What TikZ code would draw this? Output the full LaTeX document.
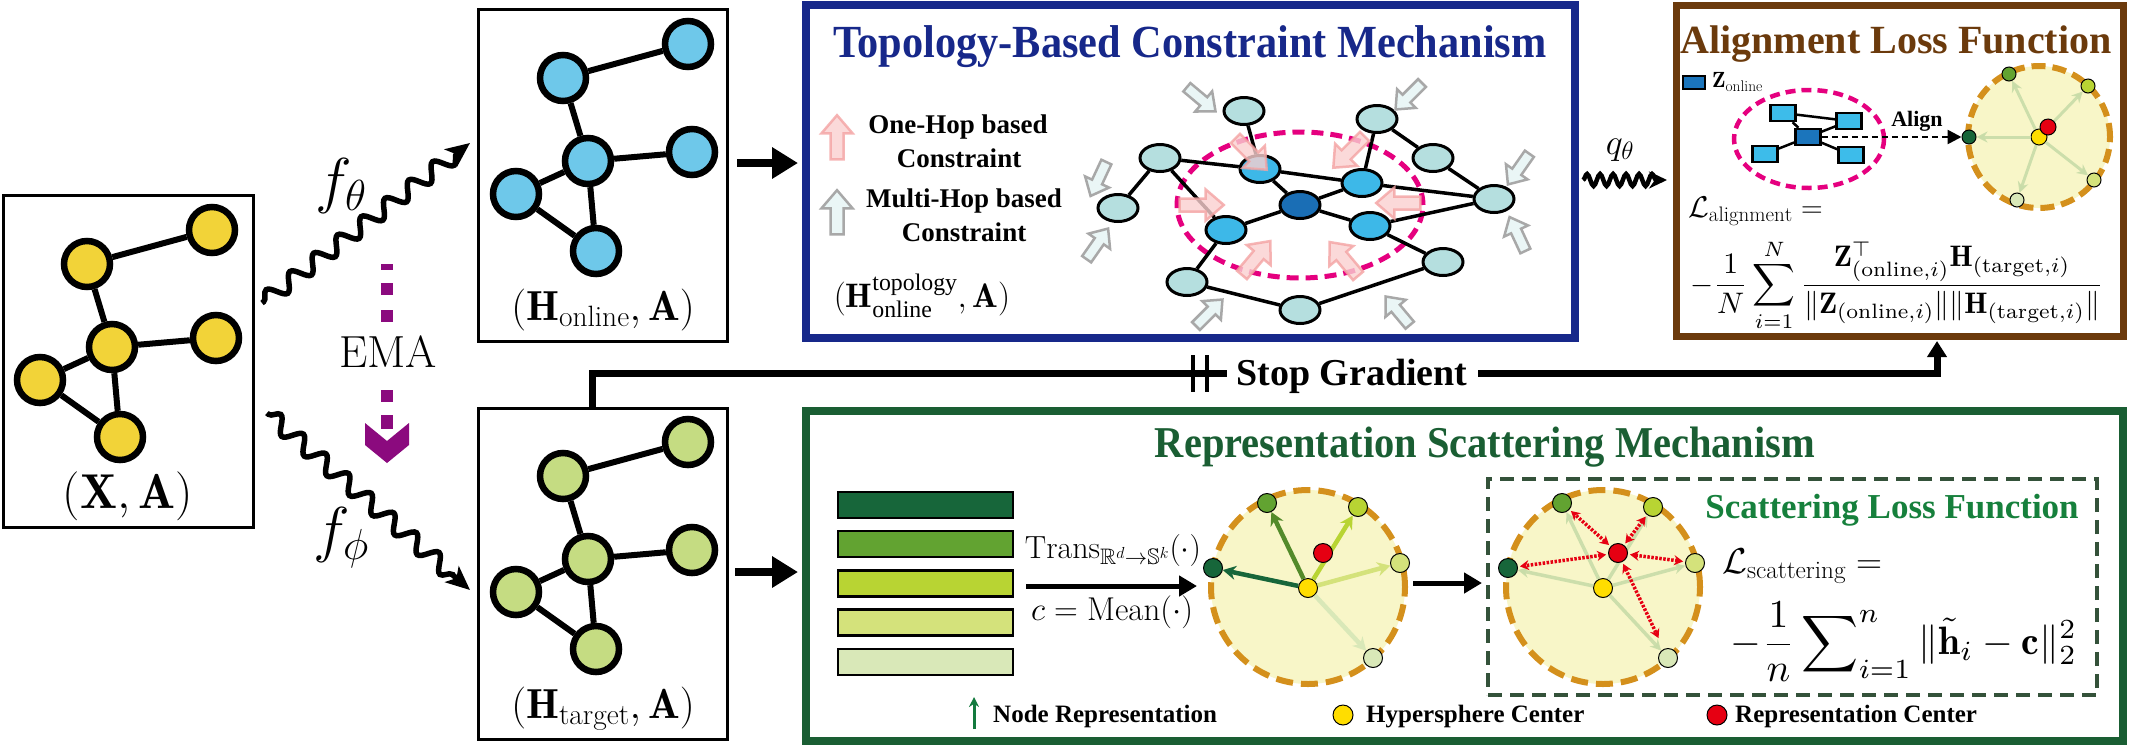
\RequirePackage{fix-cm}
\documentclass[tikz,border=0pt]{standalone}
\usepackage{amsmath,amssymb}
\usepackage{graphicx}
\usepackage{fontspec}
\newfontfamily\tnr{Liberation Serif}
\newfontfamily\tnrc[FakeStretch=0.92]{Liberation Serif}
\usetikzlibrary{arrows.meta,decorations.pathmorphing,shapes.geometric}
\newcommand{\fsz}[1]{\fontsize{#1}{#1}\selectfont}
\newcommand{\blkarrow}[5]{\begin{scope}[shift={(#1,#2)},rotate=#3,scale=#4]\draw[#5] (-18,-5)--(2,-5)--(2,-12)--(16,0)--(2,12)--(2,5)--(-18,5)--cycle;\end{scope}}
\definecolor{cyel}{HTML}{F2D338}
\definecolor{cblue}{HTML}{6EC8EA}
\definecolor{cgrn}{HTML}{C5DC82}
\definecolor{topo}{HTML}{17288A}
\definecolor{brn}{HTML}{6B3A0C}
\definecolor{repg}{HTML}{1A5E33}
\definecolor{slf}{HTML}{16803C}
\definecolor{dbox}{HTML}{34523A}
\definecolor{emac}{HTML}{8B0A7E}
\definecolor{mag}{HTML}{E5007F}
\definecolor{tnodec}{HTML}{B5DFDF}
\definecolor{tblue}{HTML}{3DB8E8}
\definecolor{tdark}{HTML}{1A6EB5}
\definecolor{ca}{HTML}{17663A}
\definecolor{cb}{HTML}{62A331}
\definecolor{cc}{HTML}{B8D433}
\definecolor{cd}{HTML}{D4E27B}
\definecolor{ce}{HTML}{D9E8B8}
\definecolor{sph}{HTML}{F8F6C8}
\definecolor{sphb}{HTML}{D4901C}
\definecolor{yc}{HTML}{FFDD00}
\definecolor{rc}{HTML}{E60012}
\definecolor{faint}{HTML}{C8DCA8}
\definecolor{zblue}{HTML}{1B75BC}
\definecolor{rblue}{HTML}{3DBCEA}
\definecolor{pinkf}{HTML}{FAD0D0}
\definecolor{pinkd}{HTML}{F4A3A3}
\definecolor{grayf}{HTML}{EAF6F6}
\definecolor{grayd}{HTML}{A8A8A8}
\definecolor{legg}{HTML}{137A3E}
\begin{document}
\begin{tikzpicture}[x=1pt,y=-1pt,
  gnode/.style={circle,draw=black,line width=6.5pt,minimum size=46pt,inner sep=0pt},
  gedge/.style={line width=6pt},
  tnode/.style={ellipse,draw=black,line width=3pt,minimum width=40pt,minimum height=27pt,inner sep=0pt,fill=tnodec},
  tedge/.style={line width=3.5pt},
  wavy/.style={line width=5.5pt,decorate,decoration={snake,amplitude=8pt,segment length=30pt,post length=16pt,pre length=2pt},-{Stealth[length=24pt,width=21pt,inset=6pt]}},
  bigarrow/.style={line width=8pt,-{Triangle[length=26pt,width=30pt]}},
  pinkarr/.style={fill=pinkf,draw=pinkd,line width=2.5pt,opacity=0.8},
  grayarr/.style={fill=grayf,draw=grayd,line width=2.5pt},
  rnode/.style={draw,line width=2.5pt,fill=rblue,minimum width=25pt,minimum height=16pt,inner sep=0pt},
  dot/.style={circle,draw=black,line width=1pt,minimum size=19pt,inner sep=0pt},
  sdot/.style={circle,draw=black,line width=1pt,minimum size=14pt,inner sep=0pt},
  sphere/.style={circle,draw=sphb,fill=sph,line width=6pt,inner sep=0pt},
  bar/.style={draw,line width=2.5pt,minimum width=175pt,minimum height=26pt,inner sep=0pt},
  faintarr/.style={faint,line width=3.5pt,opacity=0.9,-{Stealth[length=11pt,width=11pt]}},
  redarr/.style={rc,line width=3.5pt,dash pattern=on 2.5pt off 1.5pt,{Stealth[length=9pt,width=10pt]}-{Stealth[length=9pt,width=10pt]},shorten <=2pt,shorten >=2pt},
  boldt/.style={font={\tnr\bfseries\fsz{#1}}}
]
\useasboundingbox (0,0) rectangle (2131,748);
\fill[white] (0,0) rectangle (2131,748);

% ---------------- input graph (X,A)
\node[draw,line width=3pt,minimum width=250pt,minimum height=332pt,inner sep=0pt] (xa) at (128.5,361.5) {};
\node[gnode,fill=cyel] (y1) at (212,230) {};
\node[gnode,fill=cyel] (y2) at (87,264) {};
\node[gnode,fill=cyel] (y3) at (112,347) {};
\node[gnode,fill=cyel] (y4) at (216,338) {};
\node[gnode,fill=cyel] (y5) at (40,380) {};
\node[gnode,fill=cyel] (y6) at (120,437) {};
\draw[gedge] (y2)--(y1) (y2)--(y3) (y3)--(y4) (y3)--(y5) (y3)--(y6) (y5)--(y6);
\node[anchor=base,font={\fsz{49}}] (xal) at (128,508) {$(\mathbf{X},\mathbf{A})$};

% ---------------- online graph
\node[draw,line width=3pt,minimum width=249pt,minimum height=332pt,inner sep=0pt] (on) at (603,175.5) {};
\node[gnode,fill=cblue] (o1) at (688,44) {};
\node[gnode,fill=cblue] (o2) at (563,78) {};
\node[gnode,fill=cblue] (o3) at (588,161) {};
\node[gnode,fill=cblue] (o4) at (692,152) {};
\node[gnode,fill=cblue] (o5) at (516,194) {};
\node[gnode,fill=cblue] (o6) at (596,251) {};
\draw[gedge] (o2)--(o1) (o2)--(o3) (o3)--(o4) (o3)--(o5) (o3)--(o6) (o5)--(o6);
\node[anchor=base,font={\fsz{42}}] (onl) at (603,320) {$(\mathbf{H}_{\mathrm{online}},\mathbf{A})$};

% ---------------- target graph
\node[draw,line width=3pt,minimum width=249pt,minimum height=331pt,inner sep=0pt] (tg) at (603,574) {};
\node[gnode,fill=cgrn] (t1) at (688,442) {};
\node[gnode,fill=cgrn] (t2) at (563,476) {};
\node[gnode,fill=cgrn] (t3) at (588,559) {};
\node[gnode,fill=cgrn] (t4) at (692,550) {};
\node[gnode,fill=cgrn] (t5) at (516,592) {};
\node[gnode,fill=cgrn] (t6) at (596,649) {};
\draw[gedge] (t2)--(t1) (t2)--(t3) (t3)--(t4) (t3)--(t5) (t3)--(t6) (t5)--(t6);
\node[anchor=base,font={\fsz{42}}] (tgl) at (603,718) {$(\mathbf{H}_{\mathrm{target}},\mathbf{A})$};

% ---------------- encoders
\coordinate (fts) at (262,303); \coordinate (fte) at (470,143);
\coordinate (fps) at (267,413); \coordinate (fpe) at (470,590);
\draw[wavy] (fts) -- (fte);
\draw[wavy] (fps) -- (fpe);
\node[font={\fsz{62}}] (fth) at (341,186) {$f_\theta$};
\node[font={\fsz{62}}] (fph) at (341,538) {$f_\phi$};

% EMA
\coordinate (e1) at (387,264); \coordinate (e2) at (387,326);
\coordinate (e3) at (387,390); \coordinate (e4) at (387,430);
\draw[emac,line width=12pt,dash pattern=on 6pt off 13pt on 12pt off 15pt on 12pt off 60pt] (e1)--(e2);
\draw[emac,line width=12pt,dash pattern=on 12pt off 13pt on 14pt off 60pt] (e3)--(e4);
\fill[emac] (365,423)--(387,441)--(409,423)--(409,445)--(387,463)--(365,445)--cycle;
\node[font={\fsz{45}}] (emat) at (388,352) {EMA};

% arrows to the modules
\coordinate (a1s) at (737,163); \coordinate (a1e) at (798,163);
\coordinate (a2s) at (735,572); \coordinate (a2e) at (798,572);
\draw[bigarrow] (a1s)--(a1e);
\draw[bigarrow] (a2s)--(a2e);

% ---------------- topology module
\node[draw=topo,line width=8pt,minimum width=769pt,minimum height=333pt,inner sep=0pt] (tp) at (1190.5,171.5) {};
\node[anchor=base,text=topo,font={\tnrc\bfseries\fsz{46}}] (tpt) at (1190,57) {Topology-Based Constraint Mechanism};
\blkarrow{837}{136}{90}{1.3}{pinkarr}
\blkarrow{837}{211}{90}{1.3}{grayarr}
\node[anchor=base,boldt=27] (l1a) at (958,133) {One-Hop based};
\node[anchor=base,boldt=27] (l1b) at (959,167) {Constraint};
\node[anchor=base,boldt=27] (l2a) at (964,207) {Multi-Hop based};
\node[anchor=base,boldt=27] (l2b) at (964,241) {Constraint};
\node[anchor=base,font={\fsz{34}}] (tpl) at (922,307) {$(\mathbf{H}^{\text{\tnr topology}}_{\text{\tnr online}},\mathbf{A})$};

\node[ellipse,draw=mag,line width=5pt,dash pattern=on 12pt off 7pt,minimum width=246pt,minimum height=146pt] (pe) at (1300,205) {};
\node[tnode] (n1) at (1244,111) {};
\node[tnode] (n2) at (1160,158) {};
\node[tnode] (n3) at (1118,208) {};
\node[tnode,fill=tblue] (b1) at (1260,169) {};
\node[tnode,fill=tdark] (dk) at (1300,205) {};
\node[tnode,fill=tblue] (b3) at (1226,230) {};
\node[tnode] (n4) at (1187,282) {};
\node[tnode] (n5) at (1300,310) {};
\node[tnode] (n6) at (1377,119) {};
\node[tnode] (n7) at (1433,158) {};
\node[tnode,fill=tblue] (b2) at (1362,183) {};
\node[tnode] (n8) at (1494,199) {};
\node[tnode,fill=tblue] (b4) at (1370,226) {};
\node[tnode] (n9) at (1443,262) {};
\draw[tedge] (n1)--(b1) (n2)--(b1) (n2)--(n3) (n2)--(b3) (b1)--(dk) (b1)--(b2)
  (dk)--(b2) (dk)--(b4) (dk)--(b3) (b2)--(n6) (n6)--(n7) (n7)--(n8) (b2)--(n8)
  (b4)--(n8) (b4)--(n9) (b3)--(n4) (n4)--(n5) (n5)--(n9);
\blkarrow{1252}{155}{-45}{1.3}{pinkarr}
\blkarrow{1348}{153}{-135}{1.3}{pinkarr}
\blkarrow{1203}{205}{0}{1.3}{pinkarr}
\blkarrow{1397}{203}{180}{1.3}{pinkarr}
\blkarrow{1257}{257}{50}{1.3}{pinkarr}
\blkarrow{1343}{258}{130}{1.3}{pinkarr}
\blkarrow{1202}{100}{-40}{1.1}{grayarr}
\blkarrow{1408}{97}{-135}{1.1}{grayarr}
\blkarrow{1098}{180}{-115}{1.1}{grayarr}
\blkarrow{1098}{243}{55}{1.1}{grayarr}
\blkarrow{1210}{312}{45}{1.1}{grayarr}
\blkarrow{1397}{310}{130}{1.1}{grayarr}
\blkarrow{1518}{170}{-125}{1.1}{grayarr}
\blkarrow{1517}{233}{115}{1.1}{grayarr}

% q_theta
\coordinate (qs) at (1583,180); \coordinate (qe) at (1667,180);
\draw[line width=4.5pt,decorate,decoration={snake,amplitude=6pt,segment length=13pt,post length=10pt},-{Stealth[length=18pt,width=17pt]}] (qs)--(qe);
\node[font={\fsz{36}}] (ql) at (1620,150) {$q_\theta$};

% ---------------- alignment module
\node[draw=brn,line width=7pt,minimum width=447pt,minimum height=331pt,inner sep=0pt] (al) at (1900,171) {};
\node[anchor=base,text=brn,boldt=40] (alt) at (1896,53) {Alignment Loss Function};
\node[draw,line width=2pt,fill=zblue,minimum width=22pt,minimum height=13pt,inner sep=0pt] (zl) at (1694,82) {};
\node[anchor=west,font={\fsz{22}},inner sep=0pt] (zlt) at (1712,82) {$\mathbf{Z}_{\mathrm{online}}$};
\node[ellipse,draw=mag,line width=4.5pt,dash pattern=on 10pt off 6pt,minimum width=150pt,minimum height=98pt] (pe2) at (1809,139) {};
\node[rnode] (r1) at (1783,113) {};
\node[rnode] (r2) at (1849,121) {};
\node[rnode,fill=zblue] (r0) at (1808,137) {};
\node[rnode] (r3) at (1765,154) {};
\node[rnode] (r4) at (1851,155) {};
\draw[line width=2.5pt] (r1)--(r2) (r1)--(r0) (r0)--(r2) (r0)--(r3) (r0)--(r4);
\node[sphere,minimum size=142pt,dash pattern=on 14pt off 7pt] (asp) at (2039,137) {};
\node[sdot,fill=ca] (a1) at (1969,137) {};
\node[sdot,fill=cb] (a2) at (2009,74) {};
\node[sdot,fill=cc] (a3) at (2088,86) {};
\node[sdot,fill=cd] (a4) at (2094,180) {};
\node[sdot,fill=ce] (a5) at (2017,200) {};
\node[sdot,fill=yc,minimum size=16pt] (ay) at (2039,137) {};
\draw[faintarr,line width=3pt] (ay)--(a1);
\draw[faintarr,line width=3pt] (ay)--(a2);
\draw[faintarr,line width=3pt] (ay)--(a3);
\draw[faintarr,line width=3pt] (ay)--(a4);
\draw[faintarr,line width=3pt] (ay)--(a5);
\node[sdot,fill=rc,minimum size=16pt] (ar) at (2048,127) {};
\draw[line width=2.5pt,dash pattern=on 6pt off 4pt,-{Triangle[length=14pt,width=14pt]}] (r0)--(a1);
\node[boldt=22] (alg) at (1917,121) {Align};
\node[anchor=base west,font={\fsz{30}},inner sep=0pt] (la) at (1688,217) {$\mathcal{L}_{\mathrm{alignment}}=$};
\node[inner sep=0pt] (laf) at (1897,285) {\resizebox{413pt}{!}{$-\dfrac{1}{N}\displaystyle\sum_{i=1}^{N}\frac{\mathbf{Z}_{(\mathrm{online},i)}^{\top}\mathbf{H}_{(\mathrm{target},i)}}{\|\mathbf{Z}_{(\mathrm{online},i)}\|\|\mathbf{H}_{(\mathrm{target},i)}\|}$}};

% ---------------- stop gradient
\coordinate (sg0) at (592,407); \coordinate (sg1) at (592,373); \coordinate (sg2) at (1227,373);
\coordinate (sg3) at (1478,373); \coordinate (sg4) at (1937,373); \coordinate (sg5) at (1937,341);
\draw[line width=7pt] (sg0)--(sg1)--(sg2);
\draw[line width=4pt] (1193,355)--(1193,392) (1207,355)--(1207,392);
\node[anchor=base,boldt=38] (sgt) at (1352,385) {Stop Gradient};
\draw[line width=7pt,-{Triangle[length=16pt,width=19pt]}] (sg3)--(sg4)--(sg5);

% ---------------- representation scattering module
\node[draw=repg,line width=8pt,minimum width=1317pt,minimum height=330pt,inner sep=0pt] (rp) at (1464.5,576) {};
\node[anchor=base,text=repg,font={\tnrc\bfseries\fsz{44}}] (rpt) at (1485,457) {Representation Scattering Mechanism};
\node[bar,fill=ca] (v1) at (925.5,505) {};
\node[bar,fill=cb] (v2) at (925.5,544) {};
\node[bar,fill=cc] (v3) at (925.5,583.5) {};
\node[bar,fill=cd] (v4) at (925.5,622.5) {};
\node[bar,fill=ce] (v5) at (925.5,662) {};
\node[font={\fsz{32}}] (trn) at (1113,550) {$\mathrm{Trans}_{\mathbb{R}^d\rightarrow\mathbb{S}^k}(\cdot)$};
\coordinate (m1s) at (1026,586); \coordinate (m1e) at (1197,586);
\draw[line width=5pt,-{Triangle[length=18pt,width=20pt]}] (m1s)--(m1e);
\node[font={\fsz{33}}] (mean) at (1112,612) {$c=\mathrm{Mean}(\cdot)$};

\node[sphere,minimum size=194pt,dash pattern=on 17pt off 8pt] (sp1) at (1308,587) {};
\node[dot,fill=ca] (s1) at (1213,568) {};
\node[dot,fill=cb] (s2) at (1267,503) {};
\node[dot,fill=cc] (s3) at (1358,507) {};
\node[dot,fill=cd] (s4) at (1400,563) {};
\node[dot,fill=ce] (s5) at (1373,658) {};
\node[dot,fill=yc] (sy) at (1308,588) {};
\draw[ca,line width=4.5pt,-{Stealth[length=13pt,width=14pt]}] (sy)--(s1);
\draw[cb!85!black,line width=4.5pt,-{Stealth[length=13pt,width=14pt]}] (sy)--(s2);
\draw[cc,line width=4.5pt,-{Stealth[length=13pt,width=14pt]}] (sy)--(s3);
\draw[cd,line width=4.5pt,-{Stealth[length=13pt,width=14pt]}] (sy)--(s4);
\draw[ce,line width=4.5pt,-{Stealth[length=13pt,width=14pt]}] (sy)--(s5);
\node[dot,fill=rc] (sr) at (1323,553) {};

\coordinate (m2s) at (1413,583); \coordinate (m2e) at (1482,583);
\draw[line width=5pt,-{Triangle[length=18pt,width=20pt]}] (m2s)--(m2e);

\node[draw=dbox,line width=4pt,dash pattern=on 14pt off 8pt,minimum width=609pt,minimum height=216pt,inner sep=0pt] (db) at (1792.5,587) {};
\node[sphere,minimum size=194pt,dash pattern=on 17pt off 8pt] (sp2) at (1603,587) {};
\node[dot,fill=ca] (q1) at (1508,568) {};
\node[dot,fill=cb] (q2) at (1562,503) {};
\node[dot,fill=cc] (q3) at (1653,507) {};
\node[dot,fill=cd] (q4) at (1695,563) {};
\node[dot,fill=ce] (q5) at (1668,658) {};
\node[dot,fill=yc] (qy) at (1603,588) {};
\draw[faintarr] (qy)--(q1);
\draw[faintarr] (qy)--(q2);
\draw[faintarr] (qy)--(q3);
\draw[faintarr] (qy)--(q4);
\draw[faintarr] (qy)--(q5);
\node[dot,fill=rc] (qr) at (1618,553) {};
\draw[redarr] (qr)--(q1);
\draw[redarr] (qr)--(q2);
\draw[redarr] (qr)--(q3);
\draw[redarr] (qr)--(q4);
\draw[redarr,shorten >=12pt] (qr)--(q5);

\node[anchor=base,text=slf,boldt=35] (slt) at (1892,518) {Scattering Loss Function};
\node[anchor=base west,font={\fsz{36}},inner sep=0pt] (ls) at (1722,573) {$\mathcal{L}_{\mathrm{scattering}}=$};
\node[inner sep=0pt] (lsf) at (1904,642) {\resizebox{346pt}{!}{$-\dfrac{1}{n}\displaystyle\sum\nolimits_{i=1}^{n}\|\tilde{\mathbf{h}}_i-\mathbf{c}\|_2^2$}};

% legend
\coordinate (lg0) at (974,729); \coordinate (lg1) at (974,697);
\draw[legg,line width=3pt,-{Stealth[length=10pt,width=10pt]}] (lg0)--(lg1);
\node[anchor=base west,boldt=25,inner sep=0pt] (lgt1) at (993,722) {Node Representation};
\node[dot,fill=yc,minimum size=20pt] (lgy) at (1343,715) {};
\node[anchor=base west,boldt=25,inner sep=0pt] (lgt2) at (1366,722) {Hypersphere Center};
\node[dot,fill=rc,minimum size=20pt] (lgr) at (1717,715) {};
\node[anchor=base west,boldt=25,inner sep=0pt] (lgt3) at (1735,722) {Representation Center};
\end{tikzpicture}
\end{document}
